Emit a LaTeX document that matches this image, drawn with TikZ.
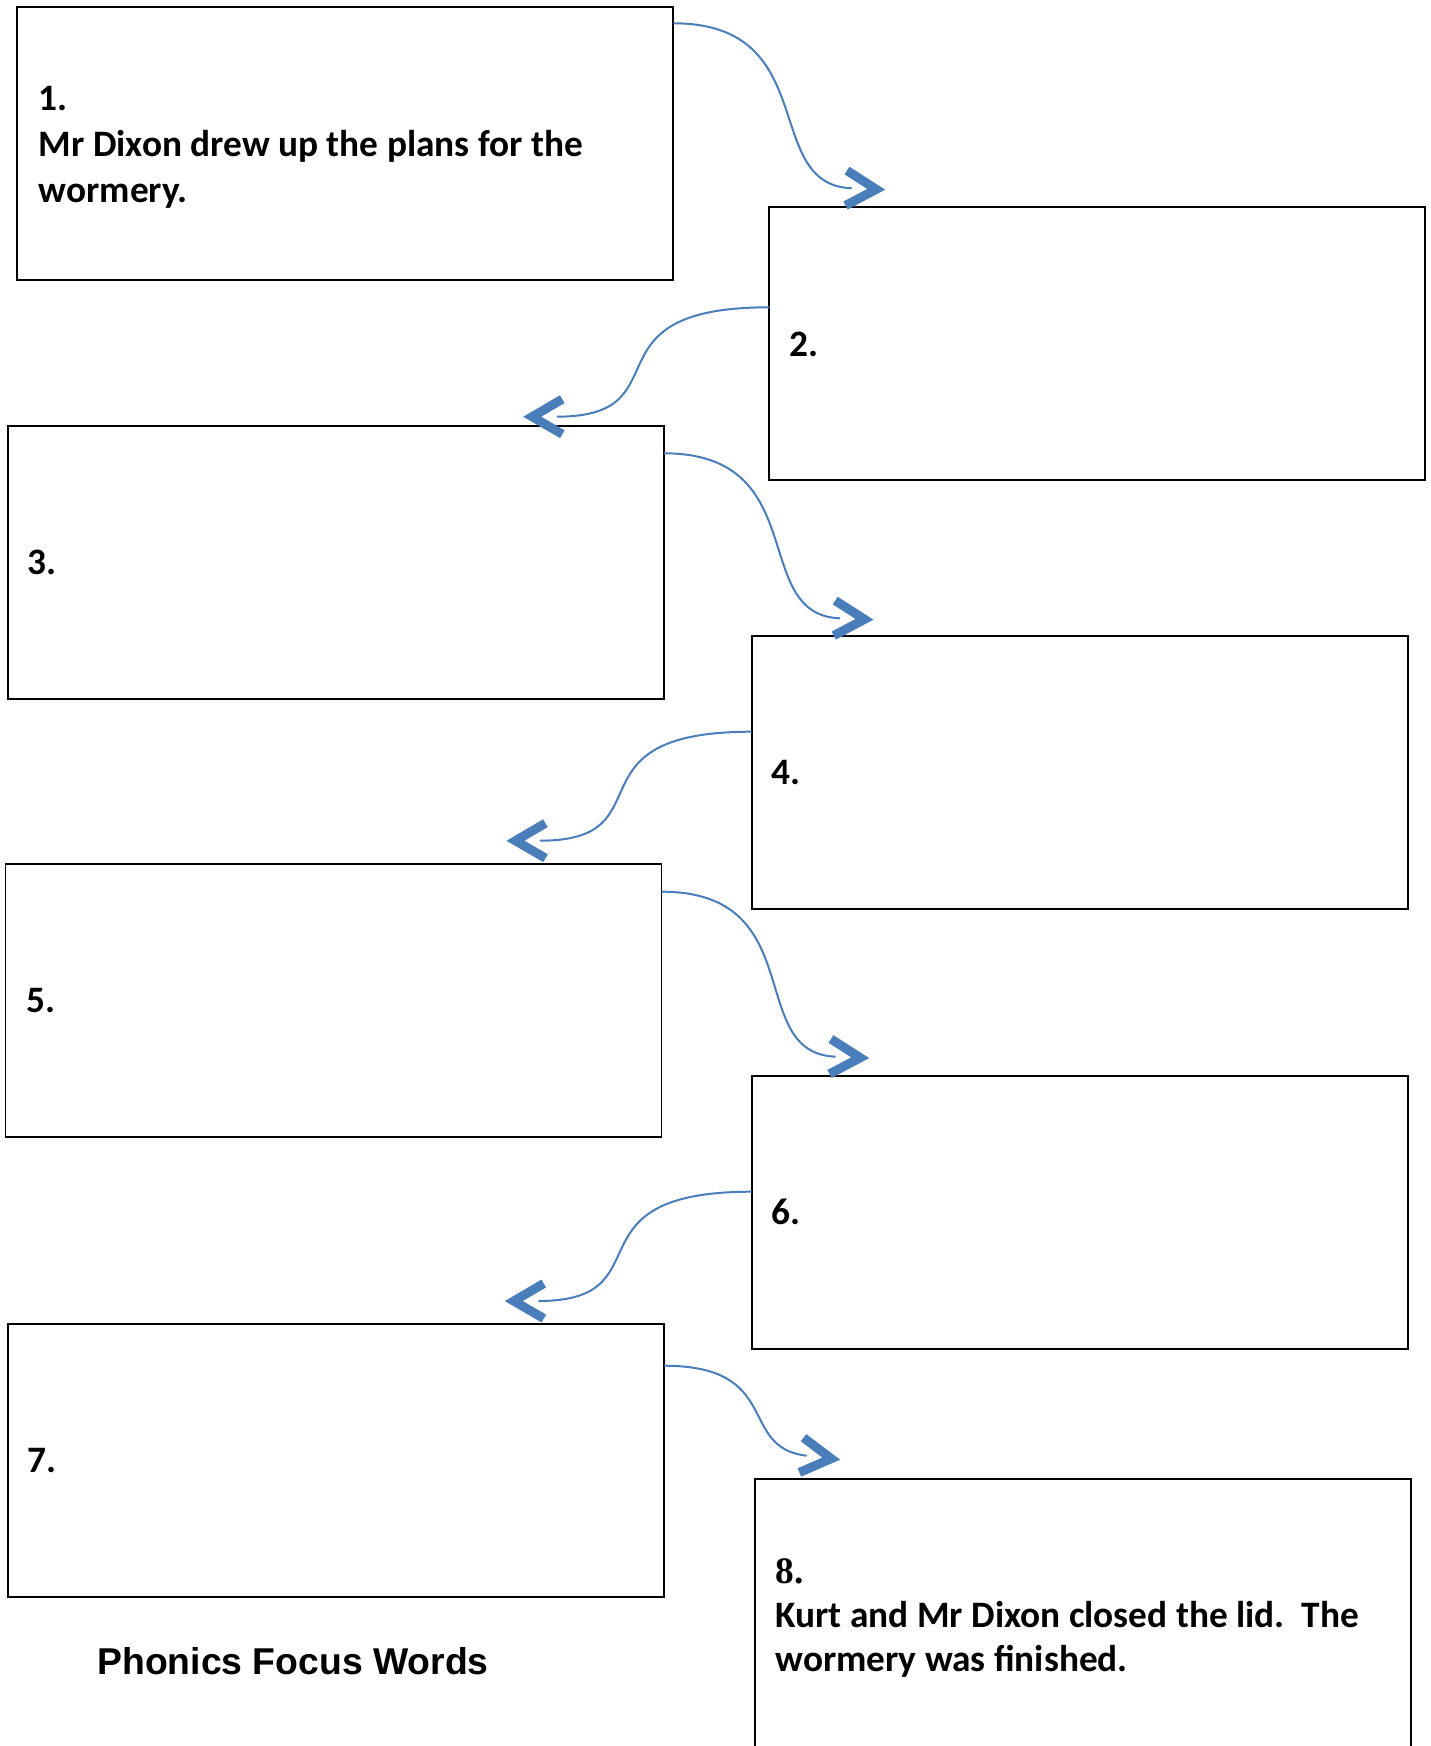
\documentclass[tikz,border=0pt]{standalone}
\usepackage{fontspec}
\setmainfont{Carlito}
\newfontfamily\timesfont{Liberation Serif}
\newfontfamily\arialfont{Liberation Sans}
\usetikzlibrary{decorations.markings}

\definecolor{flowblue}{HTML}{4A7EBB}

\tikzset{
  panel/.style={draw, line width=0.65pt, anchor=north west, inner sep=0pt, outer sep=0pt,
    minimum width=246pt, minimum height=102.4pt},
  stepnum/.style={anchor=base west, inner sep=0pt, font=\fontsize{14}{17.2}\selectfont\bfseries},
  storytext/.style={stepnum, text width=250pt, align=flush left},
  chevron/.style={draw=flowblue, line width=3.4pt, line cap=butt, line join=miter},
  flow/.style={draw=flowblue, line width=0.75pt,
    postaction={decorate, decoration={markings,
      mark=at position 0.998 with {\draw[chevron] (-5,17.5) -- (25,0) -- (-5,-17.5);}}}},
}

\begin{document}
\begin{tikzpicture}[x=0.375pt, y=-0.375pt]
  \path[use as bounding box, fill=white] (0,0) rectangle (1430,1746);

  % the eight boxes, zigzag down the page
  \node[panel] (p1) at (17.3,6.7) {};
  \node[panel] (p2) at (769.3,206.7) {};
  \node[panel] (p3) at (7.8,425.7) {};
  \node[panel] (p4) at (751.7,635.7) {};
  \node[panel] (p5) at (5.6,864.2) {};
  \node[panel] (p6) at (751.7,1075.7) {};
  \node[panel] (p7) at (7.8,1324) {};
  \node[panel] (p8) at (755,1479.3) {};

  % numbers and sentences
  \node[storytext] (t1) at ([shift={(21,104)}]p1.north west)
    {1.\\Mr Dixon drew up the plans for the\\wormery.};
  \node[stepnum] (t2) at ([shift={(20,149.5)}]p2.north west) {2.};
  \node[stepnum] (t3) at ([shift={(19,149)}]p3.north west) {3.};
  \node[stepnum] (t4) at ([shift={(19,148.5)}]p4.north west) {4.};
  \node[stepnum] (t5) at ([shift={(20,148)}]p5.north west) {5.};
  \node[stepnum] (t6) at ([shift={(19,148.5)}]p6.north west) {6.};
  \node[stepnum] (t7) at ([shift={(19,148)}]p7.north west) {7.};
  \node[storytext, font=\fontsize{14}{16.5}\selectfont\bfseries] (t8)
    at ([shift={(20,104)}]p8.north west)
    {{\timesfont 8.}\\Kurt and Mr Dixon closed the lid.\ \ The\\wormery was finished.};

  \node[anchor=base west, inner sep=0pt, font=\arialfont\fontsize{14}{17}\selectfont\bfseries]
    (focus) at ([shift={(89,77)}]p7.south west) {Phonics Focus Words};

  % ends of the connectors
  \coordinate (s1) at ([shift={(0,16.6)}]p1.north east);
  \coordinate (e1) at ([shift={(82.4,-18.4)}]p2.north west);
  \coordinate (s2) at ([shift={(0,100.6)}]p2.north west);
  \coordinate (e2) at ([shift={(549,-9)}]p3.north west);
  \coordinate (s3) at ([shift={(0,27.6)}]p3.north east);
  \coordinate (e3) at ([shift={(88.3,-17.4)}]p4.north west);
  \coordinate (s4) at ([shift={(0,96)}]p4.north west);
  \coordinate (e4) at ([shift={(534.4,-23.5)}]p5.north west);
  \coordinate (s5) at ([shift={(0,27.5)}]p5.north east);
  \coordinate (e5) at ([shift={(84,-19)}]p6.north west);
  \coordinate (s6) at ([shift={(0,116)}]p6.north west);
  \coordinate (e6) at ([shift={(530.5,-23)}]p7.north west);
  \coordinate (s7) at ([shift={(0,41.7)}]p7.north east);
  \coordinate (e7) at ([shift={(51.7,-23.6)}]p8.north west);

  % curved arrows from box to box
  \draw[flow] (s1) .. controls +(150,0) and +(-91.7,-3.3) .. (e1);
  \draw[flow] (s2) .. controls +(-190,0) and +(130,0) .. (e2);
  \draw[flow] (s3) .. controls +(150,0) and +(-91.7,-3.3) .. (e3);
  \draw[flow] (s4) .. controls +(-190,0) and +(130,0) .. (e4);
  \draw[flow] (s5) .. controls +(150,0) and +(-91.7,-3.3) .. (e5);
  \draw[flow] (s6) .. controls +(-190,0) and +(130,0) .. (e6);
  \draw[flow] (s7) .. controls +(120,0) and +(-70,-8) .. (e7);
\end{tikzpicture}
\end{document}
